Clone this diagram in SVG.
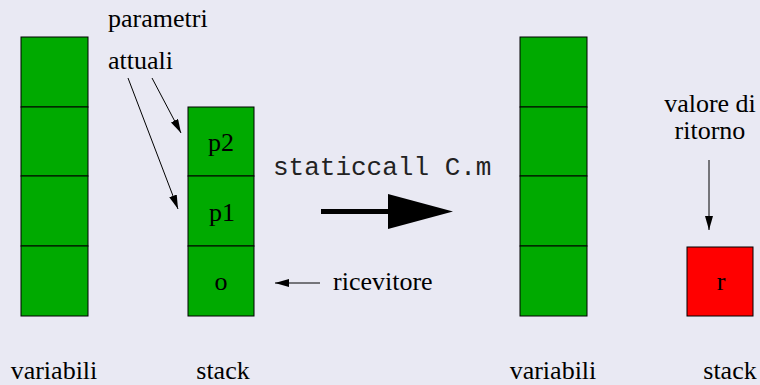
<svg xmlns="http://www.w3.org/2000/svg" width="760" height="385" viewBox="0 0 760 385">
<defs>
<style>
.cell{fill:#00aa00;stroke:#000;stroke-width:1}
.ret{fill:#ff0000;stroke:#000;stroke-width:1}
.thin{stroke:#000;stroke-width:1;fill:none;marker-end:url(#ah)}
</style>
<marker id="ah" viewBox="0 0 14 8" refX="14" refY="4" markerWidth="14" markerHeight="8" markerUnits="userSpaceOnUse" orient="auto">
<path d="M0,0 L14,4 L0,8 Z" fill="#000"/>
</marker>
</defs>
<rect width="760" height="385" fill="#e9e9f3"/>
<g font-family="'Liberation Serif', 'DejaVu Serif', serif" font-size="26" fill="#000">
<g id="variabili1">
<rect class="cell" x="21" y="37" width="67" height="70"/>
<rect class="cell" x="21" y="107" width="67" height="69"/>
<rect class="cell" x="21" y="176" width="67" height="70"/>
<rect class="cell" x="21" y="246" width="67" height="70"/>
<text text-anchor="middle" x="54" y="379">variabili</text>
</g>
<g id="stack1">
<rect class="cell" x="188" y="107" width="66" height="69"/>
<rect class="cell" x="188" y="176" width="66" height="70"/>
<rect class="cell" x="188" y="246" width="66" height="70"/>
<text text-anchor="middle" x="221" y="151">p2</text>
<text text-anchor="middle" x="222" y="221">p1</text>
<text text-anchor="middle" x="221" y="290">o</text>
<text text-anchor="middle" x="223" y="379">stack</text>
</g>
<g id="parametri">
<text x="108" y="27">parametri</text>
<text x="108" y="69">attuali</text>
</g>
<g id="ricevitore">
<text x="333" y="290">ricevitore</text>
</g>
<g id="variabili2">
<rect class="cell" x="520" y="37" width="67" height="70"/>
<rect class="cell" x="520" y="107" width="67" height="69"/>
<rect class="cell" x="520" y="176" width="67" height="70"/>
<rect class="cell" x="520" y="246" width="67" height="70"/>
<text text-anchor="middle" x="553" y="379">variabili</text>
</g>
<g id="stack2">
<rect class="ret" x="687" y="247" width="66" height="69"/>
<text text-anchor="middle" x="721" y="290">r</text>
<text text-anchor="middle" x="730" y="379">stack</text>
</g>
<g id="valore">
<text text-anchor="middle" x="710" y="112">valore di</text>
<text text-anchor="middle" x="710" y="139">ritorno</text>
</g>
</g>
<g id="call">
<text x="273" y="175" font-family="'Liberation Mono', 'Courier New', monospace" font-size="26" fill="#222">staticcall C.m</text>
</g>
<g id="connectors">
<line class="thin" x1="152" y1="78" x2="181" y2="133"/>
<line class="thin" x1="128" y1="78" x2="178" y2="209"/>
<line class="thin" x1="320" y1="283" x2="275" y2="283"/>
<line class="thin" x1="709" y1="160" x2="709" y2="230"/>
<line x1="321" y1="211.5" x2="390" y2="211.5" stroke="#000" stroke-width="5"/>
<polygon points="388,194 453,211.5 388,229" fill="#000"/>
</g>
</svg>
